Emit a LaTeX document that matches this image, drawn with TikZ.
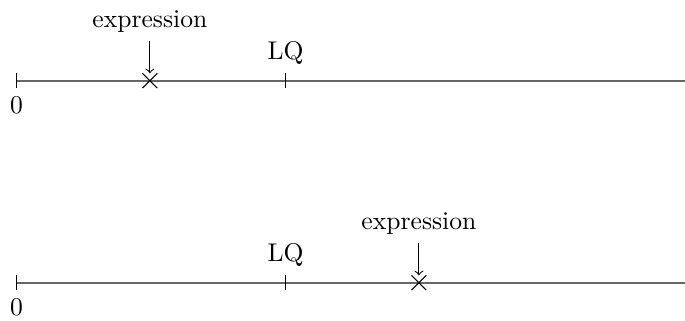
\documentclass[tikz,border=0pt]{standalone}
\usetikzlibrary{shapes.misc}
\begin{document}
\begin{tikzpicture}[
    recta/.style={thick, black!60},
    marca/.style={draw, cross out, inner sep=0pt, minimum size=3.8pt, outer sep=1pt},
    flecha/.style={->}
  ]
  \useasboundingbox (-0.226,-0.512) rectangle (9.17,3.878);

  % Recta superior: la expresion queda antes de LQ
  \coordinate (cero1) at (0,2.771);
  \coordinate (fin1) at (9.17,2.771);
  \coordinate (lq1) at (3.69,2.771);
  \draw[recta] (cero1) -- (fin1);
  \draw ([yshift=-0.1cm]cero1) -- ([yshift=0.1cm]cero1);
  \draw ([yshift=-0.1cm]lq1) -- ([yshift=0.1cm]lq1);
  \node[below] (txtcero1) at ([yshift=-0.1cm]cero1) {$0$};
  \node[above] (txtlq1) at ([yshift=0.1cm]lq1) {LQ};
  \node[marca] (cruz1) at (1.83,2.771) {};
  \node[above] (exp1) at (1.83,3.31) {expression};
  \draw[flecha] (exp1) -- (cruz1);

  % Recta inferior: la expresion queda despues de LQ
  \coordinate (cero2) at (0,0);
  \coordinate (fin2) at (9.17,0);
  \coordinate (lq2) at (3.69,0);
  \draw[recta] (cero2) -- (fin2);
  \draw ([yshift=-0.1cm]cero2) -- ([yshift=0.1cm]cero2);
  \draw ([yshift=-0.1cm]lq2) -- ([yshift=0.1cm]lq2);
  \node[below] (txtcero2) at ([yshift=-0.1cm]cero2) {$0$};
  \node[above] (txtlq2) at ([yshift=0.1cm]lq2) {LQ};
  \node[marca] (cruz2) at (5.52,0) {};
  \node[above] (exp2) at (5.52,0.54) {expression};
  \draw[flecha] (exp2) -- (cruz2);
\end{tikzpicture}
\end{document}
